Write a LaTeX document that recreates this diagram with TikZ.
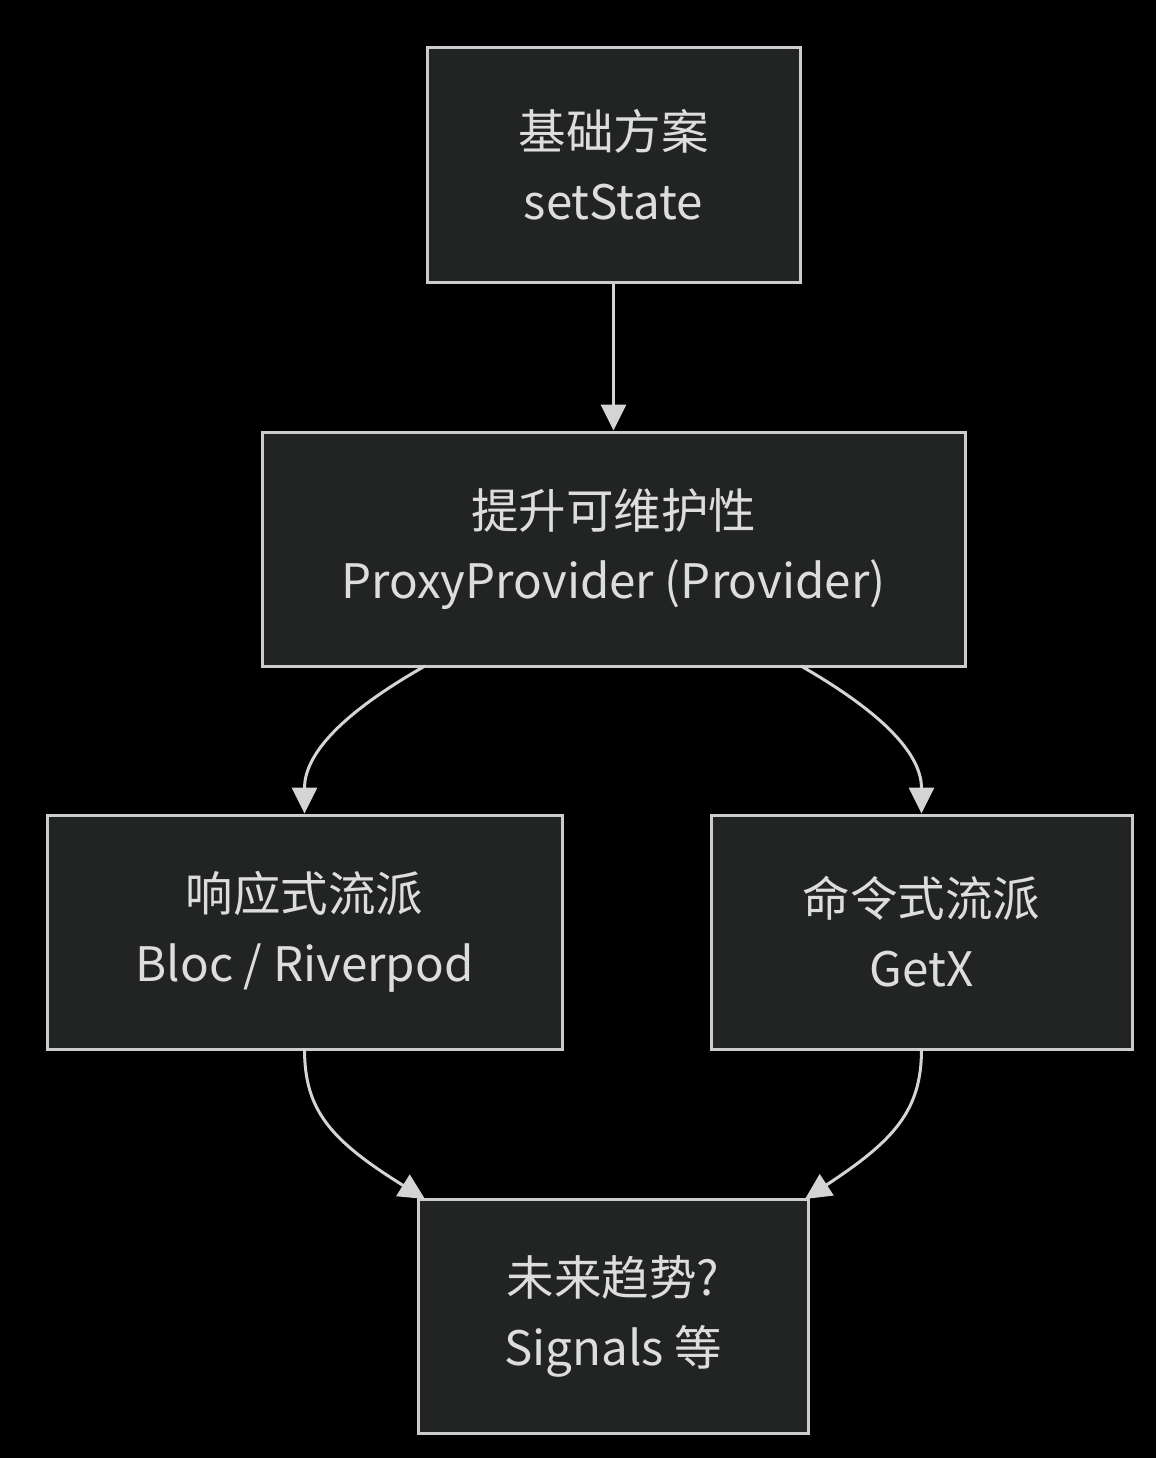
\documentclass[tikz,border=0pt]{standalone}
\usepackage{fontspec}
\setmainfont{Noto Sans CJK SC}
\usetikzlibrary{arrows.meta}
\definecolor{boxfill}{HTML}{222424}
\definecolor{boxline}{HTML}{CCCCCC}
\definecolor{txt}{HTML}{DDDDDD}
\definecolor{edge}{HTML}{D4D4D4}
\begin{document}
\begin{tikzpicture}[x=1pt,y=-1pt,
  box/.style={draw=boxline,line width=3pt,fill=boxfill,text=txt,inner sep=0pt,
    align=center,font=\fontsize{47.5}{70}\selectfont},
  conn/.style={draw=edge,line width=3pt,-{Triangle[length=26pt,width=25pt]}}]
\fill[black] (0,0) rectangle (1156,1458);
\useasboundingbox (0,0) rectangle (1156,1458);
\node[box,minimum width=373pt,minimum height=234pt] (a) at (613.5,165) {基础方案\\setState};
\node[box,minimum width=703pt,minimum height=234pt] (b) at (613.5,549) {提升可维护性\\ProxyProvider (Provider)};
\node[box,minimum width=515pt,minimum height=234pt] (c) at (304.5,932) {响应式流派\\Bloc / Riverpod};
\node[box,minimum width=421pt,minimum height=234pt] (d) at (921.5,932) {命令式流派\\GetX};
\node[box,minimum width=390pt,minimum height=234pt] (e) at (613,1316) {未来趋势?\\Signals 等};
\coordinate (b1) at (425,666);
\coordinate (b2) at (801,666);
\coordinate (c1) at (304.5,1049);
\coordinate (d1) at (921.5,1049);
\coordinate (e1) at (425,1199);
\coordinate (e2) at (805,1199);
\draw[conn] (a.south) -- (b.north);
\draw[conn] (b1) .. controls (330,720) and (304.5,760) .. (c.north -| c1);
\draw[conn] (b2) .. controls (895,720) and (921.5,760) .. (d.north -| d1);
\draw[conn] (c1) .. controls (304.5,1110) and (330,1140) .. (e1);
\draw[conn] (d1) .. controls (921.5,1110) and (895,1140) .. (e2);
\end{tikzpicture}
\end{document}
